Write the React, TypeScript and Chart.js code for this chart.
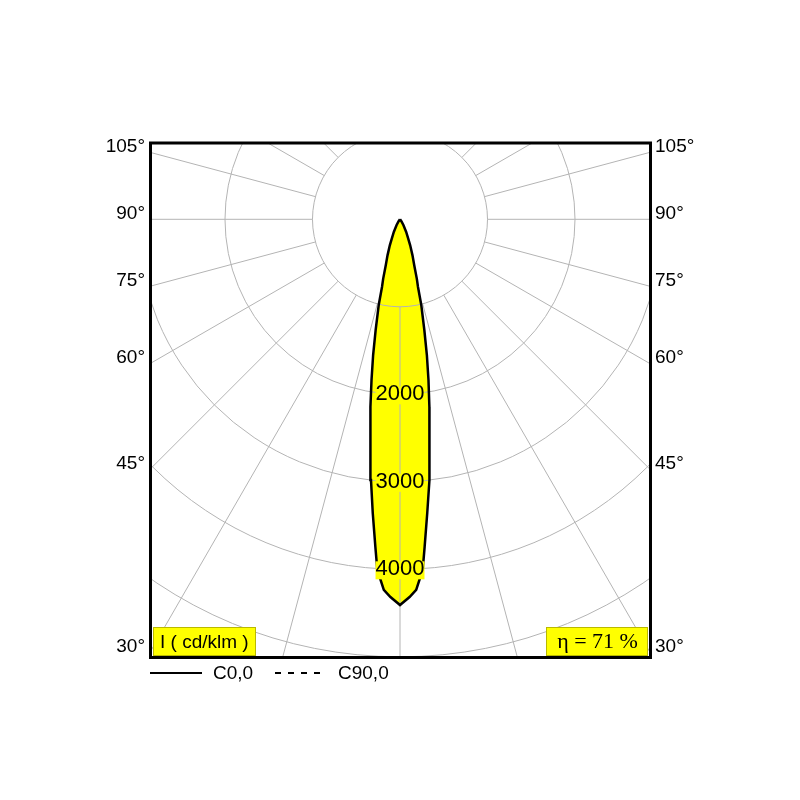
import React, { useEffect, useRef } from "react";
import { Chart, registerables } from "chart.js";

Chart.register(...registerables);

// Photometric data: angle from nadir (deg) and luminous intensity (cd/klm), C0,0 plane
const ANGLES = [0, 1.45, 2.5, 3.7, 4.3, 5.3, 6.35, 7.1, 8.3, 8.9, 10.05, 11.2, 12.4, 13.95, 14.9, 15.8, 17.2, 19.1, 21.4, 22.9, 26, 30.3, 35, 40];
const C0_INTENSITY = [4408, 4318, 4240, 4016, 3755, 3371, 2998, 2737, 2354, 2171, 1865, 1581, 1295, 1009, 800, 707, 550, 436, 319, 241, 161, 79, 30, 0];

// Grid
const RING_VALUES = [1000, 2000, 3000, 4000, 5000];
const RING_LABELS = [2000, 3000, 4000];
const SPOKE_ANGLES = [0, 15, 30, 45, 60, 75, 90, 105, 120, 135, 150, 165, 180, 195, 210, 225, 240, 255, 270, 285, 300, 315, 330, 345];

// Side angle labels
const SIDE_ANGLES = [105, 90, 75, 60, 45, 30];
const SIDE_LABELS = ["105°", "90°", "75°", "60°", "45°", "30°"];

// Texts
const LEGEND_LABELS = ["C0,0", "C90,0"];
const UNIT_LABEL = "I ( cd/klm )";
const EFFICIENCY_LABEL = "η = 71 %";

// Axis extents (cd/klm)
const X_MAX = 2857;
const Y_MAX = 872;
const Y_MIN = -5002;

const SANS = "'Liberation Sans', Arial, sans-serif";
const SERIF = "'Liberation Serif', 'Times New Roman', serif";

const rad = (d: number) => (d * Math.PI) / 180;
const toPoint = (deg: number, I: number) => ({ x: I * Math.sin(rad(deg)), y: -I * Math.cos(rad(deg)) });

const rightSide = ANGLES.map((a, i) => toPoint(a, C0_INTENSITY[i])).reverse();
const leftSide = ANGLES.slice(1).map((a, i) => toPoint(-a, C0_INTENSITY[i + 1]));
const LOBE = [...rightSide, ...leftSide];

const sideY = (a: number) => (-X_MAX * Math.cos(rad(a))) / Math.sin(rad(a));

const polarPlugin = {
  id: "polarDecor",
  afterDatasetDraw(chart: any, args: any) {
    if (args.index !== 1) return;
    const { ctx, chartArea: ca, scales } = chart;
    const cx = scales.x.getPixelForValue(0);
    const cy = scales.y.getPixelForValue(0);
    const k = (scales.x.getPixelForValue(1000) - cx) / 1000;
    ctx.save();
    ctx.beginPath();
    ctx.rect(ca.left, ca.top, ca.right - ca.left, ca.bottom - ca.top);
    ctx.clip();
    ctx.strokeStyle = "#b4b4b4";
    ctx.lineWidth = 1;
    RING_VALUES.forEach((r) => {
      ctx.beginPath();
      ctx.arc(cx, cy, r * k, 0, Math.PI * 2);
      ctx.stroke();
    });
    const r0 = RING_VALUES[0] * k;
    const r1 = 10000 * k;
    SPOKE_ANGLES.forEach((a) => {
      const s = Math.sin(rad(a));
      const c = Math.cos(rad(a));
      ctx.beginPath();
      ctx.moveTo(cx + r0 * s, cy + r0 * c);
      ctx.lineTo(cx + r1 * s, cy + r1 * c);
      ctx.stroke();
    });
    ctx.restore();
  },
  afterDatasetsDraw(chart: any) {
    const { ctx, chartArea: ca, scales } = chart;
    const cx = scales.x.getPixelForValue(0);
    ctx.save();
    // ring value labels
    ctx.font = `22px ${SANS}`;
    ctx.textAlign = "center";
    ctx.textBaseline = "middle";
    RING_LABELS.forEach((v) => {
      const py = scales.y.getPixelForValue(-v);
      const w = ctx.measureText(String(v)).width;
      ctx.fillStyle = "#ffff00";
      ctx.fillRect(cx - w / 2, py - 8, w, 18);
      ctx.fillStyle = "#000";
      ctx.fillText(String(v), cx, py);
    });

    // frame
    ctx.strokeStyle = "#000";
    ctx.lineWidth = 3;
    ctx.strokeRect(ca.left + 0.5, ca.top, ca.right - ca.left, ca.bottom - ca.top + 0.5);

    // unit box
    ctx.font = `19px ${SANS}`;
    ctx.textAlign = "left";
    const ux = ca.left + 3.5, uy = ca.bottom - 29.5;
    ctx.fillStyle = "#ffff00";
    ctx.fillRect(ux, uy, 102, 28);
    ctx.strokeStyle = "#b9b900";
    ctx.lineWidth = 1;
    ctx.strokeRect(ux, uy, 102, 28);
    ctx.fillStyle = "#000";
    ctx.fillText(UNIT_LABEL, ux + 6.5, uy + 15);

    // efficiency box
    const ex = ca.right - 103.5, ey = ca.bottom - 29.5;
    ctx.fillStyle = "#ffff00";
    ctx.fillRect(ex, ey, 101, 28);
    ctx.strokeStyle = "#b9b900";
    ctx.strokeRect(ex, ey, 101, 28);
    ctx.fillStyle = "#000";
    ctx.font = `22px ${SERIF}`;
    ctx.textAlign = "center";
    ctx.fillText(EFFICIENCY_LABEL, ex + 51, ey + 15);

    // legend
    const ly = ca.bottom + 16;
    ctx.strokeStyle = "#000";
    ctx.lineWidth = 2;
    ctx.beginPath();
    ctx.moveTo(ca.left, ly);
    ctx.lineTo(ca.left + 52, ly);
    ctx.stroke();
    ctx.font = `19px ${SANS}`;
    ctx.textAlign = "left";
    ctx.fillText(LEGEND_LABELS[0], ca.left + 63, ly + 1);
    ctx.setLineDash([6, 7]);
    ctx.beginPath();
    ctx.moveTo(ca.left + 125, ly);
    ctx.lineTo(ca.left + 170, ly);
    ctx.stroke();
    ctx.setLineDash([]);
    ctx.fillText(LEGEND_LABELS[1], ca.left + 188, ly + 1);
    ctx.restore();
  },
};

const sideAxis = (position: "left" | "right") => ({
  type: "linear" as const,
  position,
  min: Y_MIN,
  max: Y_MAX,
  grid: { display: false, drawTicks: false },
  border: { display: false },
  afterFit(scale: any) {
    scale.width = 150;
  },
  afterBuildTicks(scale: any) {
    scale.ticks = SIDE_ANGLES.map((a) => ({ value: sideY(a) }));
  },
  ticks: {
    autoSkip: false,
    padding: 5,
    labelOffset: -6,
    color: "#000",
    font: { size: 19, family: SANS },
    callback: (_v: any, i: number) => SIDE_LABELS[i],
  },
});

export default function App() {
  const ref = useRef<HTMLCanvasElement | null>(null);
  useEffect(() => {
    if (!ref.current) return;
    Chart.defaults.font.family = SANS;
    const chart = new Chart(ref.current, {
      type: "scatter",
      data: {
        datasets: [
          {
            label: LEGEND_LABELS[0],
            data: LOBE,
            showLine: true,
            fill: false,
            borderColor: "#000",
            borderWidth: 2.5,
            pointRadius: 0,
            tension: 0,
            order: 0,
          },
          {
            label: "fill",
            data: LOBE,
            showLine: true,
            fill: "shape",
            backgroundColor: "#ffff00",
            borderColor: "rgba(0,0,0,0)",
            borderWidth: 0,
            pointRadius: 0,
            tension: 0,
            order: 1,
          },
        ],
      },
      options: {
        responsive: false,
        animation: false,
        devicePixelRatio: 1,
        layout: { padding: { top: 143, bottom: 143, left: 0, right: 0 } },
        plugins: { legend: { display: false }, tooltip: { enabled: false } },
        scales: {
          x: { type: "linear", min: -X_MAX, max: X_MAX, display: false },
          y: sideAxis("left"),
          y2: sideAxis("right"),
        },
      } as any,
      plugins: [polarPlugin],
    });
    return () => chart.destroy();
  }, []);
  return (
    <div style={{ position: "absolute", left: 0, top: 0, width: 800, height: 800, background: "#fff" }}>
      <canvas ref={ref} width={800} height={800} />
    </div>
  );
}
